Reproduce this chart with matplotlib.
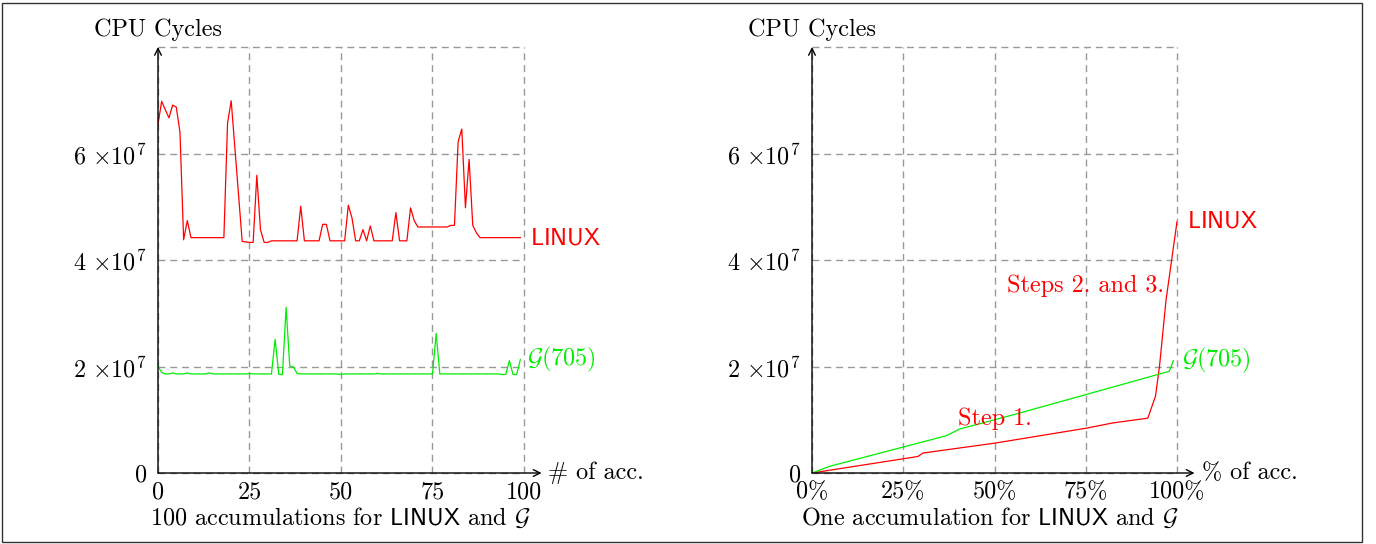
import matplotlib
matplotlib.use("Agg")
import matplotlib.pyplot as plt
from matplotlib.patches import Rectangle

plt.rcParams['mathtext.fontset'] = 'cm'
plt.rcParams['font.family'] = ['cmr10', 'DejaVu Serif']
plt.rcParams['axes.unicode_minus'] = False

# ---------------- data ----------------
acc_index = list(range(100))
linux_100 = [65.5, 69.8, 68.2, 66.7, 69.1, 68.7, 64.0, 43.8, 47.4, 44.2,
             44.2, 44.2, 44.2, 44.2, 44.2, 44.2, 44.2, 44.2, 44.2, 65.7,
             69.9, 61.1, 52.3, 43.5, 43.4, 43.3, 43.3, 55.9, 45.7, 43.3,
             43.3, 43.6, 43.6, 43.6, 43.6, 43.6, 43.6, 43.6, 43.6, 50.1,
             43.6, 43.6, 43.6, 43.6, 43.6, 46.7, 46.7, 43.6, 43.6, 43.6,
             43.6, 43.6, 50.3, 47.9, 43.6, 43.6, 45.7, 43.6, 46.4, 43.6,
             43.6, 43.6, 43.6, 43.6, 43.6, 48.9, 43.6, 43.6, 43.6, 49.8,
             47.4, 46.2, 46.2, 46.2, 46.2, 46.2, 46.2, 46.2, 46.2, 46.2,
             46.5, 46.5, 62.2, 64.6, 49.8, 58.9, 46.5, 45.1, 44.2, 44.2,
             44.2, 44.2, 44.2, 44.2, 44.2, 44.2, 44.2, 44.2, 44.2, 44.2]
g705_100 = [20.0, 18.9, 18.6, 18.6, 18.8, 18.6, 18.6, 18.6, 18.8, 18.6,
            18.6, 18.6, 18.6, 18.6, 18.8, 18.6, 18.6, 18.6, 18.6, 18.6,
            18.6, 18.6, 18.6, 18.6, 18.6, 18.7, 18.6, 18.6, 18.6, 18.6,
            18.6, 18.6, 25.1, 18.5, 18.5, 31.1, 20.1, 19.9, 18.7, 18.6,
            18.6, 18.6, 18.6, 18.6, 18.6, 18.6, 18.6, 18.6, 18.6, 18.6,
            18.5, 18.6, 18.6, 18.6, 18.6, 18.6, 18.6, 18.6, 18.6, 18.6,
            18.7, 18.6, 18.6, 18.6, 18.6, 18.6, 18.6, 18.6, 18.6, 18.6,
            18.6, 18.6, 18.6, 18.6, 18.6, 18.6, 26.2, 18.6, 18.6, 18.6,
            18.6, 18.6, 18.6, 18.6, 18.6, 18.6, 18.6, 18.6, 18.6, 18.6,
            18.6, 18.6, 18.6, 18.6, 18.5, 18.5, 21.1, 18.5, 18.5, 21.3]

linux_pct_x = [0, 29, 30.4, 50, 75, 82.4, 92, 94.1, 95.2, 97, 100]
linux_pct_y = [0, 3.1, 3.75, 5.6, 8.4, 9.4, 10.3, 14.4, 20, 32.5, 47.2]
g705_pct_x = [0, 4.8, 36.8, 40.4, 55, 97.9, 99]
g705_pct_y = [0, 1.25, 7.0, 8.25, 10.9, 19.1, 21.1]

x_ticks_left = [0, 25, 50, 75, 100]
x_labels_left = ['0', '25', '50', '75', '100']
x_ticks_right = [0, 25, 50, 75, 100]
x_labels_right = ['0%', '25%', '50%', '75%', '100%']
y_ticks = [0, 2e7, 4e7, 6e7, 8e7]
y_labels = ['0', r'$2\ {\times}10^{7}$', r'$4\ {\times}10^{7}$', r'$6\ {\times}10^{7}$', '']

SCALE = 1e6
RED = '#ff0000'
GREEN = '#00ee00'
FS = 17.4

W, H = 1376, 544
fig = plt.figure(figsize=(W / 100, H / 100), dpi=100)

# figure border
fig.patches.append(Rectangle((2 / W, 2 / H), 1360 / W, 539 / H, transform=fig.transFigure,
                             fill=False, edgecolor='#333333', lw=1.0))


def make_axes(left_px, right_px):
    top_px, bot_px = 47, 473
    ax = fig.add_axes([left_px / W, 1 - bot_px / H, (right_px - left_px) / W, (bot_px - top_px) / H])
    ax.set_xlim(0, 100)
    ax.set_ylim(0, 8e7)
    for s in ax.spines.values():
        s.set_visible(False)
    ax.set_yticks(y_ticks)
    ax.set_yticklabels(y_labels, fontsize=FS)
    ax.tick_params(length=0, pad=8)
    ax.grid(True, color='#999999', linestyle=(0, (5, 3.5)), lw=1.0)
    for ln in ax.get_xgridlines() + ax.get_ygridlines():
        ln.set_clip_on(False)
    ax.set_axisbelow(True)
    # axis lines with arrows
    ax.annotate('', xy=(1.048, 0), xytext=(0, 0), xycoords='axes fraction',
                arrowprops=dict(arrowstyle='->', lw=1.0, color='black', shrinkA=0, shrinkB=0,
                                mutation_scale=12))
    ax.annotate('', xy=(0, 1.0), xytext=(0, 0), xycoords='axes fraction',
                arrowprops=dict(arrowstyle='->', lw=1.0, color='black', shrinkA=0, shrinkB=0,
                                mutation_scale=12))
    ax.text(0, 1.014, 'CPU Cycles', transform=ax.transAxes, ha='center', va='bottom', fontsize=FS)
    return ax


# ---------------- left plot ----------------
ax1 = make_axes(158, 524)
ax1.set_xticks(x_ticks_left)
ax1.set_xticklabels(x_labels_left, fontsize=FS)
ax1.tick_params(axis='x', pad=6)
ax1.plot(acc_index, [v * SCALE for v in linux_100], color=RED, lw=0.9)
ax1.plot(acc_index, [v * SCALE for v in g705_100], color=GREEN, lw=0.9)
ax1.annotate(r'$\mathsf{LINUX}$', xy=(acc_index[-1], linux_100[-1] * SCALE), xytext=(10, -1),
             textcoords='offset pixels', color=RED, fontsize=FS, va='center', ha='left')
ax1.annotate(r'$\mathcal{G}(705)$', xy=(acc_index[-1], g705_100[-1] * SCALE), xytext=(7, 0),
             textcoords='offset pixels', color=GREEN, fontsize=FS, va='center', ha='left')
ax1.text(1.065, 0, '# of acc.', transform=ax1.transAxes, ha='left', va='center', fontsize=FS)

# ---------------- right plot ----------------
ax2 = make_axes(812, 1177)
ax2.set_xticks(x_ticks_right)
ax2.set_xticklabels(x_labels_right, fontsize=FS)
ax2.tick_params(axis='x', pad=6)
ax2.plot(linux_pct_x, [v * SCALE for v in linux_pct_y], color=RED, lw=0.9)
ax2.plot(g705_pct_x, [v * SCALE for v in g705_pct_y], color=GREEN, lw=0.9)
ax2.annotate(r'$\mathsf{LINUX}$', xy=(linux_pct_x[-1], linux_pct_y[-1] * SCALE), xytext=(10, 0),
             textcoords='offset pixels', color=RED, fontsize=FS, va='center', ha='left')
ax2.annotate(r'$\mathcal{G}(705)$', xy=(g705_pct_x[-1], g705_pct_y[-1] * SCALE), xytext=(9, 0),
             textcoords='offset pixels', color=GREEN, fontsize=FS, va='center', ha='left')
ax2.text(1.068, 0, '% of acc.', transform=ax2.transAxes, ha='left', va='center', fontsize=FS)
ax2.text(50.2, 10.2e6, 'Step 1.', color=RED, fontsize=FS, ha='center', va='center')
ax2.text(96.5, 35.2e6, 'Steps 2. and 3.', color=RED, fontsize=FS, ha='right', va='center')

# captions
fig.text(340 / W, 1 - 518 / H, r'100 accumulations for $\mathsf{LINUX}$ and $\mathcal{G}$',
         ha='center', va='center', fontsize=FS)
fig.text(990 / W, 1 - 518 / H, r'One accumulation for $\mathsf{LINUX}$ and $\mathcal{G}$',
         ha='center', va='center', fontsize=FS)

fig.savefig('out.png', dpi=100)
